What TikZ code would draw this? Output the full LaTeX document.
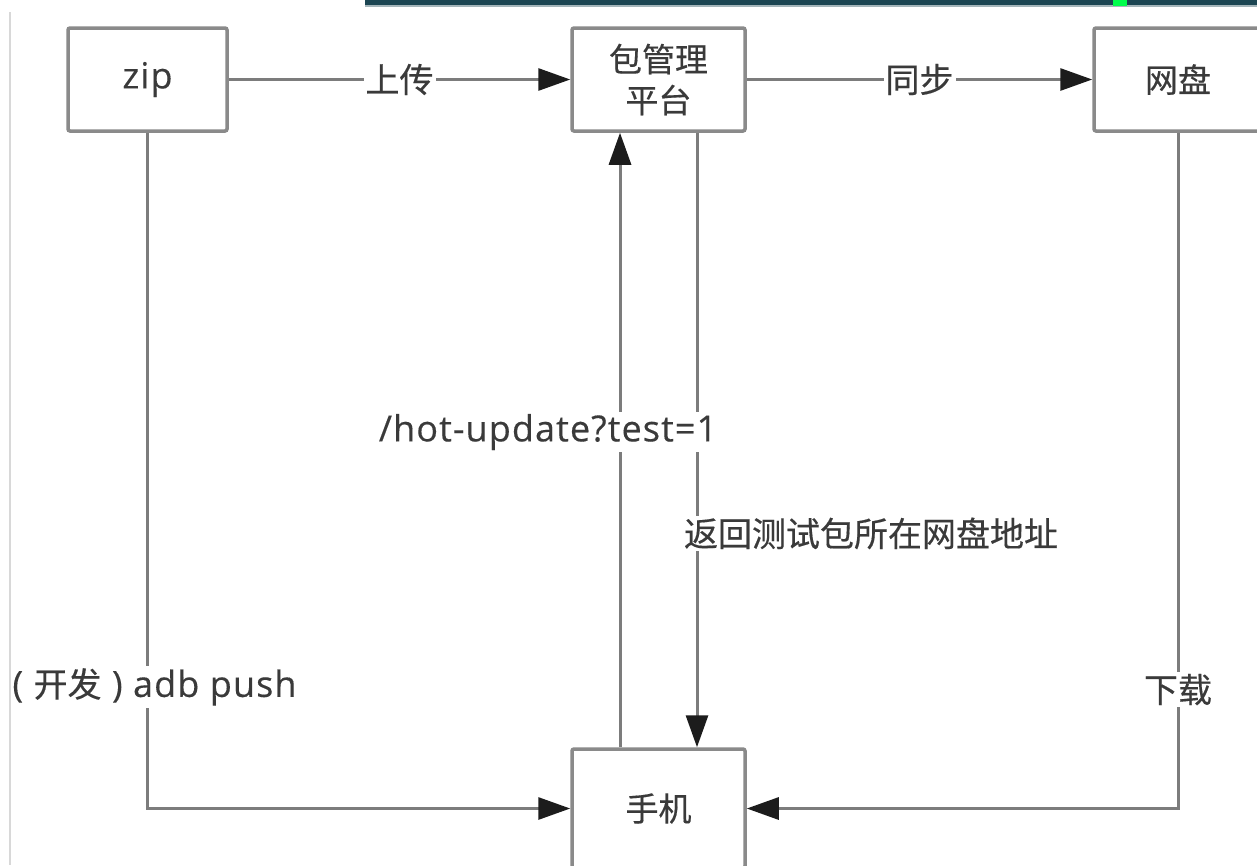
\documentclass[tikz,border=0pt]{standalone}
\usepackage{fontspec}
\usetikzlibrary{arrows.meta}
\newfontfamily\cjk[FakeBold=0.4]{Noto Sans CJK SC}
\newfontfamily\lat[FakeBold=0.3, LetterSpace=3]{Open Sans}
\newcommand\latsize{\lat\fontsize{36}{40}\selectfont}
\definecolor{boxline}{HTML}{8A8A8A}
\definecolor{wire}{HTML}{7C7C7C}
\definecolor{tipfill}{HTML}{1C1C1C}
\definecolor{txt}{HTML}{3A3A3A}
\definecolor{topbar}{HTML}{1B4552}
\definecolor{edge}{HTML}{D8D8D8}
\tikzset{
  stepbox/.style={draw=boxline, line width=3.5pt, rounded corners=2pt, fill=white,
    text=txt, font=\cjk\fontsize{33}{41}\selectfont, align=center,
    minimum height=103pt, inner sep=0pt},
  arr/.style={draw=wire, line width=3pt,
    -{Triangle[length=32pt, width=22pt, color=tipfill]}},
  lbl/.style={fill=white, text=txt, font=\cjk\fontsize{34}{38}\selectfont,
    inner sep=2pt}
}
\begin{document}
\begin{tikzpicture}[x=1pt, y=-1pt]
\useasboundingbox (0,0) rectangle (1257,865);
\clip (0,0) rectangle (1257,865);
\fill[white] (0,0) rectangle (1257,865);
% window chrome
\fill[topbar] (365,0) rectangle (1257,5);
\fill[topbar!40!white] (365,5) rectangle (1257,7);
\fill[green!70!cyan] (1113,0) rectangle (1127,6);

% boxes
\node[stepbox, minimum width=159pt] (zip) at (147.5,79.5) {\latsize zip};
\node[stepbox, minimum width=173pt] (pkg) at (658.5,79.5) {包管理\\平台};
\node[stepbox, minimum width=168pt] (disk) at (1178,79.5) {网盘};
\node[stepbox, minimum width=173pt, minimum height=119pt] (phone) at (658.5,808.5) {手机};

% connectors
\draw[arr] (zip) -- node[lbl] {上传} (pkg);
\draw[arr] (pkg) -- node[lbl] {同步} (disk);
\draw[arr] (zip.south) |- node[lbl, pos=0.41, xshift=7pt]
  {{\latsize(\ }开发{\latsize\ )\ adb push}} (phone.west);
\draw[arr] (disk.south) |- node[lbl, pos=0.412] {下载} (phone.east);
\draw[arr] ([xshift=38.5pt]pkg.south) -- ([xshift=38.5pt]phone.north)
  node[lbl, pos=0.652, xshift=174pt] {返回测试包所在网盘地址};
\draw[arr] ([xshift=-38.5pt]phone.north) -- ([xshift=-38.5pt]pkg.south)
  node[lbl, pos=0.513, xshift=-72pt, font=\latsize] {/hot-update?test=1};

% window edge on the left
\draw[edge, line width=2pt] (10,12) -- (10,865);
\end{tikzpicture}
\end{document}
